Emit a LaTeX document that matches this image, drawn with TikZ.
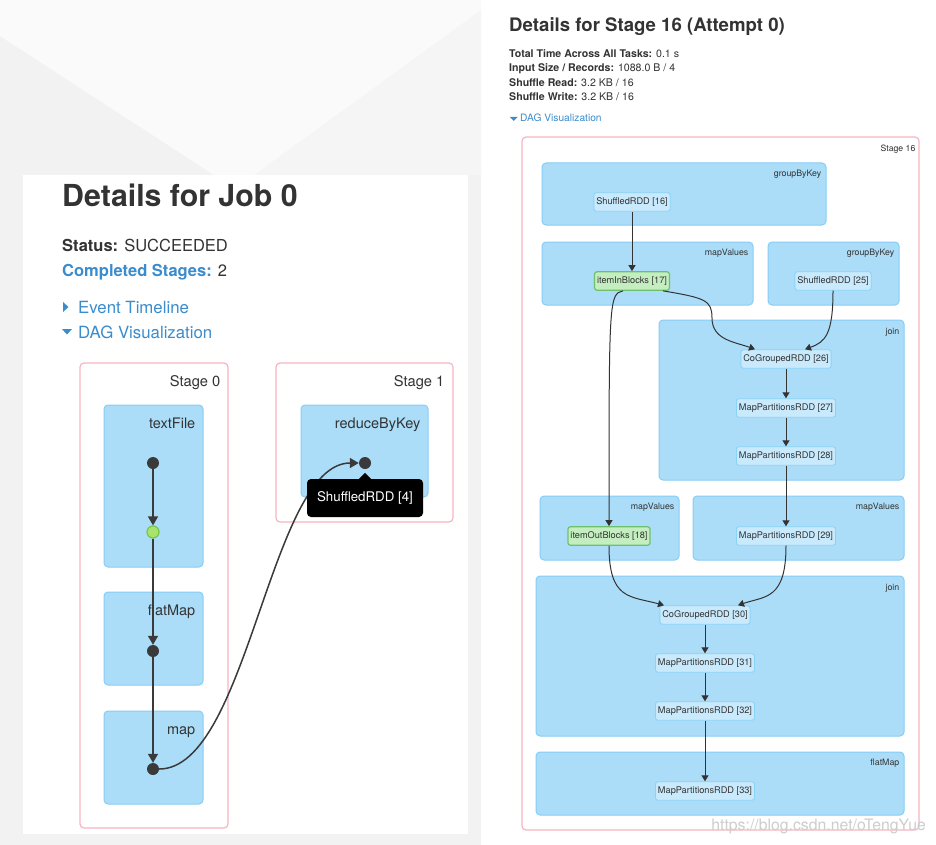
\documentclass[tikz,border=0pt]{standalone}
\usepackage{fontspec}
\setmainfont{TeX Gyre Heros}
\usetikzlibrary{arrows.meta,calc}
\definecolor{stagepink}{RGB}{245,182,194}
\definecolor{opblue}{RGB}{171,221,249}
\definecolor{opline}{RGB}{135,205,245}
\definecolor{rddblue}{RGB}{200,234,252}
\definecolor{rddline}{RGB}{140,210,247}
\definecolor{cachegreen}{RGB}{196,238,192}
\definecolor{cacheline}{RGB}{110,192,110}
\definecolor{dotgray}{RGB}{58,58,58}
\definecolor{greenfill}{RGB}{168,228,108}
\definecolor{greenline}{RGB}{120,196,80}
\definecolor{linkblue}{RGB}{58,140,205}
\definecolor{textdark}{RGB}{51,51,51}
\definecolor{pagegray}{RGB}{242,242,243}
\definecolor{pagemid}{RGB}{245,245,246}
\definecolor{pagelight}{RGB}{250,250,250}
\definecolor{markgray}{RGB}{205,205,205}
\newcommand{\fs}[1]{\fontsize{#1}{#1}\selectfont}
\tikzset{
    stagebox/.style = {draw=stagepink, fill=white, line width=1.2pt,
        rounded corners=4pt, inner sep=0pt},
    opbox/.style = {draw=opline, fill=opblue, line width=1pt,
        rounded corners=4pt, inner sep=0pt},
    oplabel/.style = {anchor=base east, inner sep=0pt, text=textdark},
    txt/.style = {anchor=base west, inner sep=0pt, text=textdark},
    rdd/.style = {draw=rddline, fill=rddblue, line width=0.9pt, rounded corners=2.5pt,
        minimum height=18.5pt, inner sep=2.5pt, font=\fs{9.2}, text=textdark},
    cached/.style = {rdd, draw=cacheline, fill=cachegreen, line width=1.2pt},
    dot/.style = {circle, fill=dotgray, minimum size=12pt, inner sep=0pt},
    greendot/.style = {circle, fill=greenfill, draw=greenline, line width=1.2pt,
        minimum size=12pt, inner sep=0pt},
    flow/.style = {draw=dotgray, line width=1.5pt, -{Triangle[width=10pt,length=9pt]}},
    dep/.style = {draw=textdark, line width=1pt, -{Triangle[width=7pt,length=6pt]}},
    tooltip/.style = {fill=black, rounded corners=4pt, text=white, font=\fs{13.3},
        minimum width=116pt, minimum height=38pt, inner sep=0pt}
}
\begin{document}
\begin{tikzpicture}[x=1pt,y=-1pt]
\useasboundingbox (0,0) rectangle (936,845);
\fill[white] (0,0) rectangle (936,845);
\fill[pagegray] (0,0) rectangle (481,845);
\fill[pagemid] (481,10) -- (254,175) -- (481,175) -- cycle;
\fill[pagelight] (0,0) -- (481,0) -- (481,10) -- (254,175) -- (214,175) -- (0,36) -- cycle;
\fill[white] (23,175) rectangle (468,834);

% job page
\node[txt, font=\fs{30.3}\bfseries] (jobtitle) at (62,206) {Details for Job 0};
\node[txt, font=\fs{16.5}] (status) at (62,251) {\textbf{Status:} SUCCEEDED};
\node[txt, font=\fs{16.5}] (stages) at (62,276) {\textcolor{linkblue}{\textbf{Completed Stages:}} 2};
\node[txt, font=\fs{16.8}, text=linkblue] (timeline) at (78,313) {Event Timeline};
\node[txt, font=\fs{16.8}, text=linkblue] (dagjob) at (78,338) {DAG Visualization};
\fill[linkblue] (63,302) -- (68.5,307) -- (63,312) -- cycle;
\fill[linkblue] (62,329) -- (72,329) -- (67,334.5) -- cycle;

\node[stagebox, minimum width=148pt, minimum height=465pt] (stage0) at (154,595.5) {};
\node[oplabel, font=\fs{14.7}] at ([xshift=-8pt,yshift=-24pt]stage0.north east) {Stage 0};
\node[stagebox, minimum width=177pt, minimum height=159pt] (stage1) at (364.5,442.5) {};
\node[oplabel, font=\fs{14.7}] at ([xshift=-9pt,yshift=-24pt]stage1.north east) {Stage 1};

\node[opbox, minimum width=99pt, minimum height=162pt] (textfile) at (153.5,486) {};
\node[oplabel, font=\fs{14.5}] at ([xshift=-8pt,yshift=-23.5pt]textfile.north east) {textFile};
\node[opbox, minimum width=99pt, minimum height=93pt] (flatmap) at (153.5,638.5) {};
\node[oplabel, font=\fs{14.5}] at ([xshift=-8pt,yshift=-23.5pt]flatmap.north east) {flatMap};
\node[opbox, minimum width=99pt, minimum height=93pt] (mapop) at (153.5,757.5) {};
\node[oplabel, font=\fs{14.5}] at ([xshift=-8pt,yshift=-23.5pt]mapop.north east) {map};
\node[opbox, minimum width=127pt, minimum height=92pt] (reduce) at (364.5,451) {};
\node[oplabel, font=\fs{14.5}] at ([xshift=-8pt,yshift=-23.5pt]reduce.north east) {reduceByKey};

\node[dot] (dtext) at (153,463) {};
\node[greendot] (dgreen) at (153,532) {};
\node[dot] (dflat) at (153,651) {};
\node[dot] (dmap) at (153,769) {};
\node[dot] (dred) at (365,463) {};
\draw[flow] (dtext) -- (dgreen);
\draw[flow] (dgreen) -- (dflat);
\draw[flow] (dflat) -- (dmap);
\draw[flow] (dmap) .. controls +(95,0) and +(-95,0) .. (dred);

\node[tooltip] (tip) at (365,498) {ShuffledRDD [4]};
\fill (tip.north) +(-6,0) -- +(0,-6) -- +(6,0) -- cycle;

% stage page
\node[txt, font=\fs{18.6}\bfseries] (stagetitle) at (509,32) {Details for Stage 16 (Attempt 0)};
\node[txt, font=\fs{10.6}] (stat1) at (509,57.5) {\textbf{Total Time Across All Tasks:} 0.1 s};
\node[txt, font=\fs{10.6}] (stat2) at (509,71.8) {\textbf{Input Size / Records:} 1088.0 B / 4};
\node[txt, font=\fs{10.6}] (stat3) at (509,86.1) {\textbf{Shuffle Read:} 3.2 KB / 16};
\node[txt, font=\fs{10.6}] (stat4) at (509,100.4) {\textbf{Shuffle Write:} 3.2 KB / 16};
\node[txt, font=\fs{10.2}, text=linkblue] (dagstage) at (520,121.7) {DAG Visualization};
\fill[linkblue] (510,117) -- (517.5,117) -- (513.75,121) -- cycle;

\node[stagebox, minimum width=397pt, minimum height=693pt] (stage16) at (720.5,483.5) {};
\node[oplabel, font=\fs{8.7}] at ([xshift=-4pt,yshift=-15.6pt]stage16.north east) {Stage 16};

\node[opbox, minimum width=284pt, minimum height=62pt] (gbk1) at (684,194) {};
\node[oplabel, font=\fs{8.8}] at ([xshift=-5pt,yshift=-14pt]gbk1.north east) {groupByKey};
\node[opbox, minimum width=211pt, minimum height=63pt] (mv1) at (647.5,273.5) {};
\node[oplabel, font=\fs{8.8}] at ([xshift=-5pt,yshift=-14pt]mv1.north east) {mapValues};
\node[opbox, minimum width=131pt, minimum height=63pt] (gbk2) at (833.5,273.5) {};
\node[oplabel, font=\fs{8.8}] at ([xshift=-5pt,yshift=-14pt]gbk2.north east) {groupByKey};
\node[opbox, minimum width=245pt, minimum height=160pt] (join1) at (781.5,400) {};
\node[oplabel, font=\fs{8.8}] at ([xshift=-5pt,yshift=-14.5pt]join1.north east) {join};
\node[opbox, minimum width=139pt, minimum height=64pt] (mv2) at (609.5,528) {};
\node[oplabel, font=\fs{8.8}] at ([xshift=-5pt,yshift=-14pt]mv2.north east) {mapValues};
\node[opbox, minimum width=211pt, minimum height=64pt] (mv3) at (798.5,528) {};
\node[oplabel, font=\fs{8.8}] at ([xshift=-5pt,yshift=-14pt]mv3.north east) {mapValues};
\node[opbox, minimum width=368pt, minimum height=160pt] (join2) at (720,656) {};
\node[oplabel, font=\fs{8.8}] at ([xshift=-5pt,yshift=-14.5pt]join2.north east) {join};
\node[opbox, minimum width=368pt, minimum height=63pt] (fm) at (720,783.5) {};
\node[oplabel, font=\fs{8.8}] at ([xshift=-5pt,yshift=-14pt]fm.north east) {flatMap};

\node[rdd] (sr16) at (632,202) {ShuffledRDD [16]};
\node[cached] (iib) at (632,281) {itemInBlocks [17]};
\node[rdd] (sr25) at (833,281) {ShuffledRDD [25]};
\node[rdd] (co26) at (786,359) {CoGroupedRDD [26]};
\node[rdd] (mp27) at (786,408) {MapPartitionsRDD [27]};
\node[rdd] (mp28) at (786,456) {MapPartitionsRDD [28]};
\node[cached] (iob) at (609,536) {itemOutBlocks [18]};
\node[rdd] (mp29) at (786,536) {MapPartitionsRDD [29]};
\node[rdd] (co30) at (705,615) {CoGroupedRDD [30]};
\node[rdd] (mp31) at (705,663) {MapPartitionsRDD [31]};
\node[rdd] (mp32) at (705,711) {MapPartitionsRDD [32]};
\node[rdd] (mp33) at (705,791) {MapPartitionsRDD [33]};

\draw[dep] (sr16) -- (iib);
\draw[dep] ([xshift=31pt]iib.south) .. controls (705,298) and (712,300) .. (712,318)
    .. controls (712,340) and (735,342) .. ([xshift=-31pt]co26.north);
\draw[dep] (sr25.south) .. controls (833,335) and (825,342) .. ([xshift=19pt]co26.north);
\draw[dep] ([xshift=-9pt]iib.south) .. controls (609,294) and (609,300) .. (iob.north);
\draw[dep] (co26) -- (mp27);
\draw[dep] (mp27) -- (mp28);
\draw[dep] (mp28) -- (mp29);
\draw[dep] (iob.south) .. controls (609,600) and (630,596) .. ([xshift=-41pt]co30.north);
\draw[dep] (mp29.south) .. controls (786,600) and (765,596) .. ([xshift=33pt]co30.north);
\draw[dep] (co30) -- (mp31);
\draw[dep] (mp31) -- (mp32);
\draw[dep] (mp32) -- (mp33);

\node[oplabel, font=\fs{15.8}, text=markgray] (mark) at (926,830) {https://blog.csdn.net/oTengYue};
\end{tikzpicture}
\end{document}
